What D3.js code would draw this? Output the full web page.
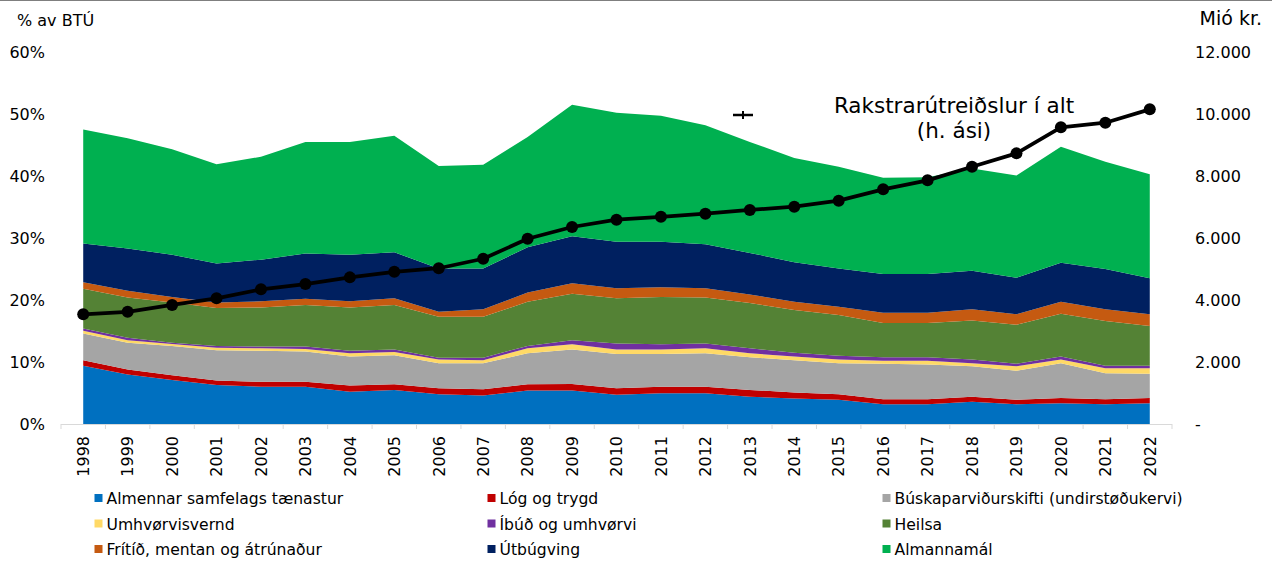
<!DOCTYPE html>
<html><head><meta charset="utf-8">
<script src="https://cdn.jsdelivr.net/npm/d3@7"></script>
<style>
html,body{margin:0;padding:0;background:#fff;}
svg{display:block;font-family:"DejaVu Sans",Verdana,sans-serif;}
</style></head>
<body>
<svg id="chart" width="1272" height="563"></svg>
<script>
const years = ["1998","1999","2000","2001","2002","2003","2004","2005","2006","2007","2008","2009","2010","2011","2012","2013","2014","2015","2016","2017","2018","2019","2020","2021","2022"];
const seriesNames = ["Almennar samfelags tænastur","Lóg og trygd","Búskaparviðurskifti (undirstøðukervi)","Umhvørvisvernd","Íbúð og umhvørvi","Heilsa","Frítíð, mentan og átrúnaður","Útbúgving","Almannamál"];
const seriesColors = ["#0070C0","#C00000","#A5A5A5","#FFD966","#7030A0","#548235","#C55A11","#002060","#00B050"];
// % of BTÚ, per series
const almennar   = [9.4,8.0,7.1,6.3,6.0,6.0,5.2,5.5,4.8,4.6,5.4,5.4,4.7,4.95,4.95,4.4,4.1,3.9,3.2,3.2,3.6,3.2,3.35,3.2,3.35];
const log        = [0.9,0.8,0.75,0.7,0.8,0.8,1.0,0.9,0.95,1.0,1.0,1.05,1.05,1.05,1.05,1.1,1.0,0.9,0.8,0.8,0.8,0.7,0.85,0.8,0.85];
const buskapar   = [4.3,4.3,4.75,4.9,5.0,4.9,4.7,4.7,4.05,4.2,5.0,5.55,5.55,5.3,5.4,5.25,5.2,5.0,5.7,5.6,4.9,4.7,5.6,4.2,3.9];
const umhvorvis  = [0.45,0.4,0.3,0.4,0.4,0.4,0.5,0.5,0.6,0.5,0.8,0.85,0.7,0.7,0.8,0.65,0.6,0.6,0.5,0.6,0.5,0.7,0.6,0.8,0.9];
const ibud       = [0.35,0.4,0.2,0.3,0.3,0.4,0.4,0.4,0.3,0.4,0.4,0.65,1.0,0.85,0.8,0.8,0.6,0.6,0.55,0.55,0.6,0.4,0.5,0.4,0.4];
const heilsa     = [6.4,6.5,6.5,6.1,6.3,6.7,7.0,7.2,6.6,6.6,7.1,7.5,7.3,7.65,7.4,7.3,6.9,6.6,5.55,5.55,6.3,6.3,6.9,7.2,6.4];
const fritid     = [1.05,1.1,0.9,0.9,1.0,1.0,1.0,1.1,0.8,1.2,1.5,1.7,1.6,1.55,1.5,1.4,1.3,1.3,1.65,1.65,1.8,1.7,1.9,1.9,1.9];
const utbugving  = [6.25,6.8,6.8,6.3,6.7,7.3,7.5,7.4,7.0,6.6,7.3,7.6,7.5,7.35,7.1,6.7,6.4,6.2,6.25,6.25,6.2,5.9,6.3,6.5,5.8];
const almannamal = [18.4,17.8,17.0,16.0,16.6,18.0,18.2,18.8,16.5,16.7,17.8,21.2,20.8,20.3,19.2,17.9,16.8,16.4,15.5,15.6,16.5,16.5,18.7,17.3,16.8];
// Rakstrarútreiðslur í alt, Mió kr.
const rakstrar = [3540,3620,3840,4055,4345,4515,4730,4910,5025,5330,5975,6355,6590,6685,6785,6905,7010,7205,7570,7860,8300,8730,9570,9720,10150];
const leftTicks = [0,0.1,0.2,0.3,0.4,0.5,0.6];
const rightTicks = [0,2000,4000,6000,8000,10000,12000];

const seriesValues = [almennar,log,buskapar,umhvorvis,ibud,heilsa,fritid,utbugving,almannamal];
const table = years.map((yr,i)=>{
  const row = {year:yr};
  seriesNames.forEach((n,k)=>row[n]=seriesValues[k][i]/100);
  return row;
});

const svg = d3.select("#chart");
const x = d3.scaleBand().domain(years).range([61,1172]).padding(0);
const cx = d => x(d)+x.bandwidth()/2;
const y = d3.scaleLinear().domain([0,0.6]).range([424,52]);
const y2 = d3.scaleLinear().domain([0,12000]).range([424,52]);
const FF = "'DejaVu Sans',Verdana,sans-serif";

// top border
svg.append("line").attr("x1",0).attr("x2",1272).attr("y1",0.5).attr("y2",0.5).attr("stroke","#7f7f7f").attr("stroke-width",1);

const stack = d3.stack().keys(seriesNames);
const layers = stack(table);
const area = d3.area().x(d=>cx(d.data.year)).y0(d=>y(d[0])).y1(d=>y(d[1]));
svg.append("g").selectAll("path").data(layers).join("path")
  .attr("d",area).attr("fill",(d,i)=>seriesColors[i]);

// bottom axis
const gx = svg.append("g").attr("transform","translate(0,424)");
gx.append("line").attr("x1",61).attr("x2",1172).attr("y1",0.5).attr("y2",0.5).attr("stroke","#d9d9d9");
gx.selectAll("line.tk").data(years.concat(["end"])).join("line").attr("class","tk")
  .attr("x1",(d,i)=>i<years.length?x(d):x(years[years.length-1])+x.bandwidth())
  .attr("x2",(d,i)=>i<years.length?x(d):x(years[years.length-1])+x.bandwidth())
  .attr("y1",0).attr("y2",5).attr("stroke","#d9d9d9");
const axB = svg.append("g").attr("transform","translate(0,424)")
  .call(d3.axisBottom(x).tickSize(0));
axB.select(".domain").remove();
axB.selectAll("text").attr("transform","rotate(-90)").attr("text-anchor","end")
  .attr("x",-12).attr("y",0).attr("dy","0.36em").attr("font-size",16).attr("fill","#000")
  .style("font-family",FF);

// left axis
const axL = svg.append("g").attr("transform","translate(45,0)")
  .call(d3.axisLeft(y).tickValues(leftTicks).tickSize(0).tickFormat(d3.format(".0%")));
axL.select(".domain").remove();
axL.selectAll("text").attr("x",0).attr("font-size",16).attr("fill","#000")
  .style("font-family",FF);

// right axis
const loc = d3.formatLocale({decimal:",",thousands:".",grouping:[3],currency:["",""]});
const fmt = loc.format(",.0f");
const axR = svg.append("g").attr("transform","translate(1195,0)")
  .call(d3.axisRight(y2).tickValues(rightTicks).tickSize(0).tickFormat(d=>d===0?"-":fmt(d)));
axR.select(".domain").remove();
axR.selectAll("text").attr("x",0).attr("font-size",16).attr("fill","#000")
  .style("font-family",FF);

// axis titles
svg.append("text").attr("x",17).attr("y",26).attr("font-size",16).text("% av BTÚ");
svg.append("text").attr("x",1262).attr("y",25).attr("text-anchor","end").attr("font-size",19).text("Mió kr.");

// line
const line = d3.line().x((d,i)=>cx(years[i])).y(d=>y2(d));
svg.append("path").datum(rakstrar).attr("d",line).attr("fill","none").attr("stroke","#000").attr("stroke-width",3.75).attr("stroke-linejoin","round");
svg.append("g").selectAll("circle").data(rakstrar).join("circle")
  .attr("cx",(d,i)=>cx(years[i])).attr("cy",d=>y2(d)).attr("r",6).attr("fill","#000");

// stray key marker
svg.append("line").attr("x1",733).attr("x2",753).attr("y1",115).attr("y2",115).attr("stroke","#000").attr("stroke-width",2.5);
svg.append("line").attr("x1",743).attr("x2",743).attr("y1",111).attr("y2",119).attr("stroke","#000").attr("stroke-width",2);

// annotation
const ann = svg.append("text").attr("font-size",21.5).attr("text-anchor","middle");
ann.append("tspan").attr("x",954).attr("y",113).text("Rakstrarútreiðslur í alt");
ann.append("tspan").attr("x",954).attr("y",138).text("(h. ási)");

// legend
const legX = [94.5,487.5,882.5];
const legY = [504,529.5,555];
const leg = svg.append("g");
seriesNames.forEach((n,i)=>{
  const col = i%3, row = Math.floor(i/3);
  const g = leg.append("g").attr("transform",`translate(${legX[col]},${legY[row]})`);
  g.append("rect").attr("x",0).attr("y",-10).attr("width",8).attr("height",8).attr("fill",seriesColors[i]);
  g.append("text").attr("x",12).attr("y",0).attr("font-size",15.6).text(n);
});
</script>
</body></html>
